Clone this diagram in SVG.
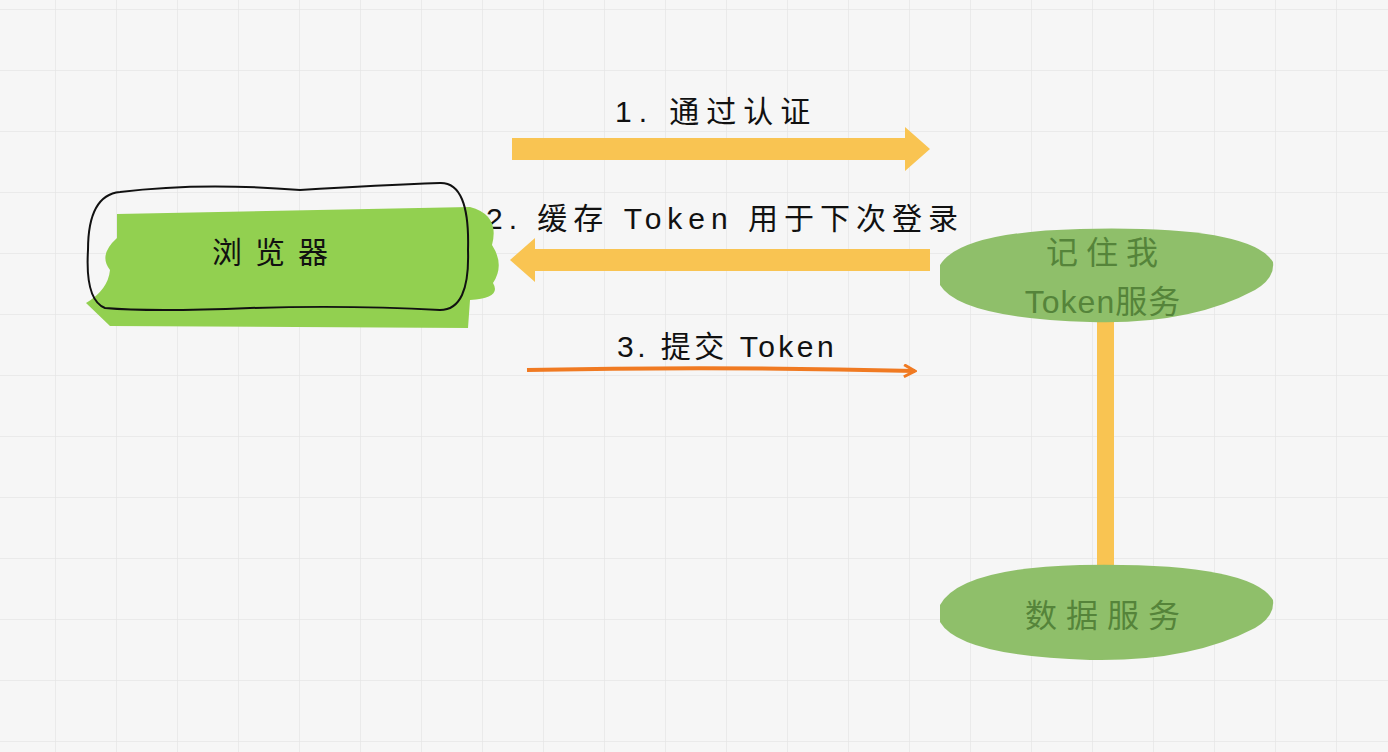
<svg xmlns="http://www.w3.org/2000/svg" width="1388" height="752" viewBox="0 0 1388 752">
<style>
.t{font-family:"Liberation Sans","Noto Sans CJK SC",sans-serif;font-size:30px;fill:#111}
.g{font-family:"Liberation Sans","Noto Sans CJK SC",sans-serif;font-size:32px;fill:#55843a;text-anchor:middle}
</style>
<defs>
<pattern id="grid" width="61" height="61" patternUnits="userSpaceOnUse" x="-5" y="10">
<path d="M61 0V61H0" fill="none" stroke="#e6e6e6" stroke-width="1.5"/>
</pattern>
<marker id="oa" markerWidth="14" markerHeight="14" refX="12" refY="7" orient="auto" markerUnits="userSpaceOnUse">
<path d="M1 1L12 7L1 13" fill="none" stroke="#f07a22" stroke-width="3"/>
</marker>
</defs>
<rect width="1388" height="752" fill="#f6f6f6"/>
<rect width="1388" height="752" fill="url(#grid)"/>
<g id="connectors">
<path d="M512 138H905V127L930 149L905 171V160H512Z" fill="#f9c452"/>
<path d="M930 249H535V238L510 260L535 282V271H930Z" fill="#f9c452"/>
<path d="M527 370Q720 366 915 371" fill="none" stroke="#f07a22" stroke-width="4" marker-end="url(#oa)"/>
<rect x="1097" y="320" width="17" height="250" fill="#f9c452"/>
<text class="t" x="615" y="122" letter-spacing="7">1. 通过认证</text>
<text class="t" x="486" y="229" letter-spacing="6">2. 缓存 Token 用于下次登录</text>
<text class="t" x="617" y="357" letter-spacing="3.5">3. 提交 Token</text>
</g>
<g id="browser">
<path d="M117 214L470 207Q500 215 492 245Q505 265 493 283Q502 298 470 300L468 328L110 326L86 303Q108 290 110 270Q98 255 117 238Z" fill="#92d050"/>
<path d="M120 192Q200 182 300 190Q380 185 440 183Q470 182 468 250Q470 310 440 310Q350 305 250 308Q150 312 105 308Q85 300 88 250Q88 195 120 192Z" fill="none" stroke="#111" stroke-width="2"/>
<text class="t" x="212" y="263" font-size="38" letter-spacing="13">浏览器</text>
</g>
<g id="remember">
<path d="M940 265Q960 232 1080 229Q1250 225 1273 262Q1275 278 1255 290Q1190 325 1090 322Q960 318 940 285Z" fill="#8fbf6a"/>
<text class="g" x="1106" y="264" letter-spacing="8">记住我</text>
<text class="g" x="1103" y="313" letter-spacing="1">Token服务</text>
</g>
<g id="data">
<path d="M940 605Q960 568 1080 565Q1250 562 1273 600Q1275 616 1255 628Q1190 662 1090 660Q960 656 940 622Z" fill="#8fbf6a"/>
<text class="g" x="1107" y="627" font-size="36" letter-spacing="9">数据服务</text>
</g>
</svg>
